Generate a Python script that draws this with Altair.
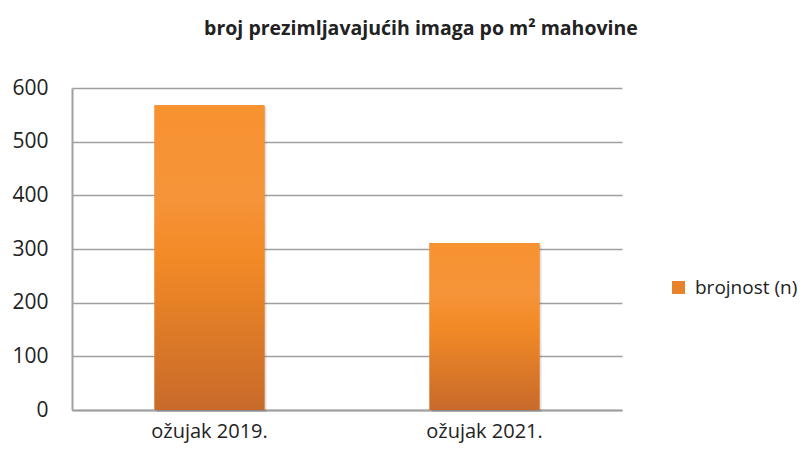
import altair as alt
import pandas as pd

categories = ["ožujak 2019.", "ožujak 2021."]
values = [568, 311]
series = ["brojnost (n)", "brojnost (n)"]

df = pd.DataFrame({"kategorija": categories, "vrijednost": values, "serija": series})

grad = alt.Gradient(
    gradient="linear", x1=0, y1=0, x2=0, y2=1,
    stops=[
        alt.GradientStop(color="#F7922F", offset=0),
        alt.GradientStop(color="#F6943A", offset=0.3),
        alt.GradientStop(color="#F28A25", offset=0.5),
        alt.GradientStop(color="#C86A2B", offset=1),
    ],
)

FONT = "Open Sans"

x = alt.X("kategorija:N", sort=categories, title=None,
          scale=alt.Scale(paddingInner=0.6, paddingOuter=0.3),
          axis=alt.Axis(labelAngle=0, labelFontSize=20, labelColor="#222222",
                        labelFont=FONT, ticks=False, domainColor="#A0A0A0",
                        domainWidth=2, labelPadding=11))
y = alt.Y("vrijednost:Q", title=None,
          scale=alt.Scale(domain=[0, 600], nice=False),
          axis=alt.Axis(values=[0, 100, 200, 300, 400, 500, 600], labelFontSize=21,
                        labelColor="#222222", labelFont=FONT, ticks=False,
                        domainColor="#A0A0A0", domainWidth=2, gridColor="#A0A0A0",
                        gridWidth=1.5, labelPadding=24))

shadow = alt.Chart(df).mark_bar(color="#000000", opacity=0.12, xOffset=2, yOffset=2).encode(x=x, y=y)

base = alt.Chart(df).mark_bar().encode(
    x=x, y=y,
    color=alt.Color("serija:N", title=None,
                    scale=alt.Scale(domain=["brojnost (n)"], range=["#E9822C"]),
                    legend=alt.Legend(orient="none", legendX=597, legendY=190,
                                      symbolType="square", symbolSize=169,
                                      symbolStrokeWidth=0,
                                      labelFontSize=19, labelFont=FONT,
                                      labelColor="#222222", padding=0,
                                      labelOffset=7)),
)

top = alt.Chart(df).mark_bar(color=grad).encode(x=x, y=y)

chart = alt.layer(shadow, base, top).properties(
    width=550, height=322,
    padding={"left": 64, "top": 80, "right": 177, "bottom": 35},
    autosize=alt.AutoSizeParams(type="none"),
    title=alt.Title("broj prezimljavajućih imaga po m² mahovine",
                    fontSize=19.5, font=FONT, fontWeight="bold", color="#222222",
                    anchor="middle", dx=74, offset=38),
).configure_view(stroke=None)

chart.save("out.html", embed_options={"renderer": "svg", "actions": False})
